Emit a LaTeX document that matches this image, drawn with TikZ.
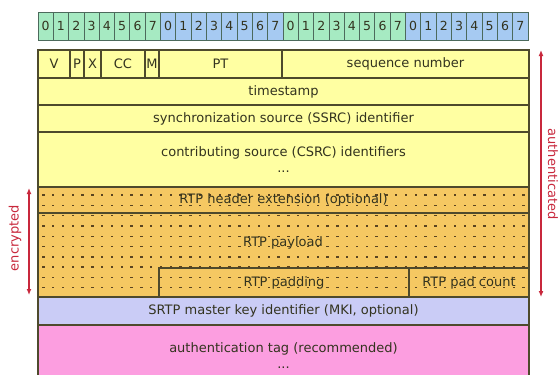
\documentclass[tikz,border=0pt]{standalone}
\usepackage{fontspec}
\setmainfont{DejaVu Sans}
\usetikzlibrary{arrows.meta}
\definecolor{hdrgreen}{HTML}{A6EAC2}
\definecolor{hdrblue}{HTML}{A6CAF2}
\definecolor{bitedge}{HTML}{4C6A5C}
\definecolor{rowyellow}{HTML}{FFFFA2}
\definecolor{encorange}{HTML}{F5C862}
\definecolor{mkiblue}{HTML}{CACCF6}
\definecolor{authpink}{HTML}{FC9EE0}
\definecolor{edge}{HTML}{4E4A2C}
\definecolor{dotcol}{HTML}{5A4420}
\definecolor{arrowred}{HTML}{C8283C}
\definecolor{txt}{HTML}{33331F}
\newcommand\fieldfont{\fontsize{13}{14}\selectfont}
\newcommand\mkfield[7]{\node[fieldbox, fill=#6, minimum width={(#4-#2)*1pt}, minimum height={(#5-#3)*1pt}] (#1) at ({(#2+#4)/2},{(#3+#5)/2}) {#7};}
\tikzset{
  fieldbox/.style={draw=edge, line width=1.1pt, inner sep=0pt, text=txt, font=\fieldfont, align=center},
  bitcell/.style={draw=bitedge, line width=0.8pt, inner sep=0pt, minimum width=15.3125pt, minimum height=28pt, text=txt, font=\fontsize{12.5}{13}\selectfont},
  fieldtext/.style={text=txt, font=\fieldfont, inner sep=0pt},
  redarrow/.style={draw=arrowred, line width=1.6pt, {Latex[length=6pt,width=5pt]}-{Latex[length=6pt,width=5pt]}},
  redlabel/.style={text=arrowred, font=\fieldfont, inner sep=0pt}
}
\begin{document}
\begin{tikzpicture}[x=1pt,y=-1pt]
\useasboundingbox (0,0) rectangle (560,375);
\fill[white] (0,0) rectangle (560,375);
\clip (0,0) rectangle (560,375);
% bit ruler
\foreach \i in {0,...,31}{
  \pgfmathtruncatemacro\b{mod(\i,8)}
  \pgfmathtruncatemacro\g{mod(floor(\i/8),2)}
  \ifnum\g=0 \def\cc{hdrgreen}\else\def\cc{hdrblue}\fi
  \node[bitcell, fill=\cc] (bit\i) at ({38+15.3125*(\i+0.5)},26) {\b};
}
% header fields
\mkfield{v}{38}{50}{70}{78}{rowyellow}{V}
\mkfield{p}{70}{50}{84}{78}{rowyellow}{P}
\mkfield{x}{84}{50}{101}{78}{rowyellow}{X}
\mkfield{cc}{101}{50}{145}{78}{rowyellow}{CC}
\mkfield{m}{145}{50}{159}{78}{rowyellow}{M}
\mkfield{pt}{159}{50}{282}{78}{rowyellow}{PT}
\mkfield{seq}{282}{50}{529}{78}{rowyellow}{sequence number}
\mkfield{ts}{38}{78}{529}{105}{rowyellow}{timestamp}
\mkfield{ssrc}{38}{105}{529}{132}{rowyellow}{synchronization source (SSRC) identifier}
\mkfield{csrc}{38}{132}{529}{187}{rowyellow}{contributing source (CSRC) identifiers\\[2pt]...}
% encrypted part
\mkfield{hdrext}{38}{187}{529}{213}{encorange}{}
\mkfield{payload}{38}{213}{529}{297}{encorange}{}
\mkfield{padding}{159}{268}{409}{297}{encorange}{}
\mkfield{padcount}{409}{268}{529}{297}{encorange}{}
\begin{scope}
  \clip (38.6,187.6) rectangle (528.4,296.4);
  \foreach \i in {0,...,50}{
    \foreach \j in {0,...,9}{
      \fill[dotcol] ({43.3+9.8*\i-1.2},{195+10.3*\j-0.7}) rectangle ++(2.4,1.4);
    }
  }
\end{scope}
\node[fieldtext] (hdrextT) at (hdrext.center) {RTP header extension (optional)};
\node[fieldtext] (payloadT) at (283,243) {RTP payload};
\node[fieldtext] (paddingT) at (padding.center) {RTP padding};
\node[fieldtext] (padcountT) at (padcount.center) {RTP pad count};
% SRTP fields
\mkfield{mki}{38}{297}{529}{325}{mkiblue}{SRTP master key identifier (MKI, optional)}
\mkfield{auth}{38}{325}{529}{386}{authpink}{authentication tag (recommended)\\[2pt]...}
% arrows
\coordinate (authtop) at (541,50);
\coordinate (authbot) at (541,297);
\coordinate (enctop) at (29,188);
\coordinate (encbot) at (29,295);
\draw[redarrow] (authtop) -- (authbot);
\draw[redarrow] (enctop) -- (encbot);
\node[redlabel, rotate=-90] (authL) at (553,174) {authenticated};
\node[redlabel, rotate=90] (encL) at (15,238) {encrypted};
\end{tikzpicture}
\end{document}
